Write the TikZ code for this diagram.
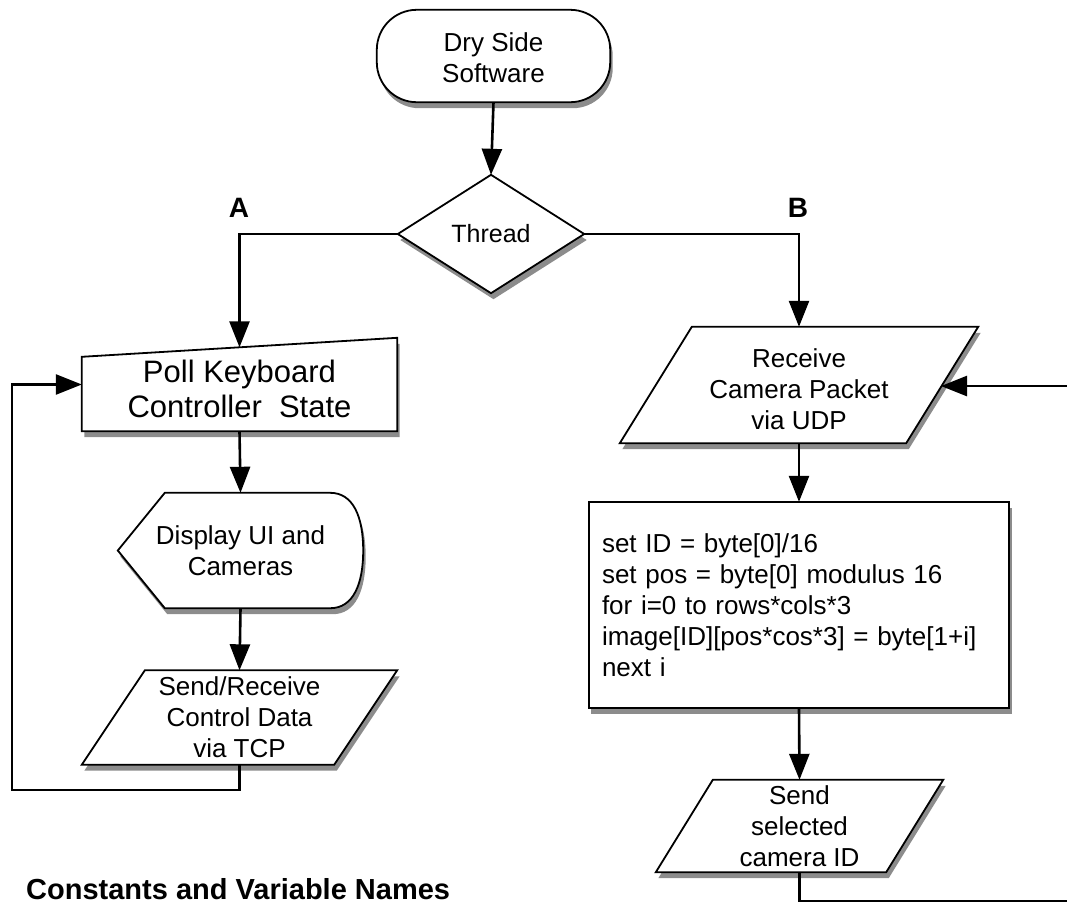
\documentclass[tikz,border=0pt]{standalone}
\usepackage{fontspec}
\setmainfont{Liberation Sans}
\usetikzlibrary{arrows.meta,calc,shadows}
\pgfdeclarelayer{background}
\pgfsetlayers{background,main}

% parallelogram outline around a node box, #2 = horizontal slant
\newcommand\paraoutline[2]{%
  \draw[outline] ($(#1.north west)+(#2,0)$) -- (#1.north east)
    -- ($(#1.south east)+(-#2,0)$) -- (#1.south west) -- cycle;}

\begin{document}
\begin{tikzpicture}[x=1pt,y=-1pt,
  box/.style={inner sep=0pt, align=center, font=\fontsize{26}{31}\selectfont},
  txt/.style={inner sep=0pt, align=center, font=\fontsize{26}{31}\selectfont},
  outline/.style={draw=black, line width=1.8pt, fill=white,
    drop shadow={shadow xshift=2.5pt, shadow yshift=-6pt, opacity=0.6, fill=black!75}},
  flow/.style={draw=black, line width=2.6pt, -{Triangle[length=26pt,width=20pt]}},
  branch/.style={inner sep=0pt, font=\bfseries\fontsize{28}{30}\selectfont},
]
\useasboundingbox (0,0) rectangle (1067,903);

% ---- shape boxes and their texts (outlines go on the background layer)
\node[box, minimum width=233pt, minimum height=92pt] (start) at (493.5,56) {};
\node[txt] (starttext) at (493.5,58) {Dry Side\\Software};
\node[box, minimum width=186pt, minimum height=118pt, font=\fontsize{25}{30}\selectfont] (thread) at (491,234) {Thread};
\node[branch] (labA) at (239,208) {A};
\node[branch] (labB) at (798,208) {B};

\node[box, minimum width=315pt, minimum height=93pt] (poll) at (239.5,384.5) {};
\node[txt, font=\fontsize{31}{35}\selectfont] (polltext) at (239.5,388.5) {Poll Keyboard\\Controller~~State};
\node[box, minimum width=245pt, minimum height=115pt] (disp) at (240.5,550.5) {Display UI and\\Cameras};
\node[box, minimum width=315pt, minimum height=94pt] (sendctl) at (239.5,717.5) {Send/Receive\\Control Data\\via TCP};

\node[box, minimum width=358pt, minimum height=116pt] (recv) at (799,385) {};
\node[txt] (recvtext) at (799,389) {Receive\\Camera Packet\\via UDP};
\node[box, minimum width=420pt, minimum height=206pt, text width=394pt, align=left] (proc) at (799,605)
  {set ID = byte[0]/16\\
   set pos = byte[0] modulus 16\\
   for i=0 to rows*cols*3\\
   image[ID][pos*cos*3] = byte[1+i]\\
   next i};
\node[box, minimum width=287pt, minimum height=92pt] (sendsel) at (799.5,826) {Send\\selected\\camera ID};

\node[anchor=base west, inner sep=0pt, font=\bfseries\fontsize{29}{30}\selectfont] (consts) at (26,899) {Constants and Variable Names};

% ---- shape outlines
\begin{pgfonlayer}{background}
  \draw[outline, rounded corners=40pt] (start.north west) rectangle (start.south east);
  \draw[outline] (thread.north) -- (thread.east) -- (thread.south) -- (thread.west) -- cycle;
  % manual input: slanted top edge
  \draw[outline] ($(poll.north west)+(0,19)$) -- (poll.north east) -- (poll.south east) -- (poll.south west) -- cycle;
  % display shape
  \draw[outline] (disp.west) -- ($(disp.north west)+(47,0)$) -- ($(disp.north east)+(-33,0)$)
    .. controls ($(disp.north east)+(-10,0)$) and ($(disp.north east)+(0,24)$) .. (disp.east)
    .. controls ($(disp.south east)+(0,-24)$) and ($(disp.south east)+(-10,0)$) .. ($(disp.south east)+(-33,0)$)
    -- ($(disp.south west)+(47,0)$) -- cycle;
  \paraoutline{sendctl}{63}
  \paraoutline{recv}{72}
  \draw[outline] (proc.north west) rectangle (proc.south east);
  \paraoutline{sendsel}{57}
\end{pgfonlayer}

% ---- connection points
\coordinate (polltop) at ($(poll.north)+(0,9.5)$);
\coordinate (loopL) at (12,790);
\coordinate (recvin) at (941,386);
\coordinate (loopR) at (1090,901);

% ---- connectors
\draw[flow] (start.south) -- (thread.north);
\draw[flow] (thread.west) -| (polltop);
\draw[flow] (thread.east) -| (recv.north);
\draw[flow] (poll.south) -- (disp.north);
\draw[flow] (disp.south) -- (sendctl.north);
\draw[flow] (sendctl.south) |- (loopL) |- (poll.west);
\draw[flow] (recv.south) -- (proc.north);
\draw[flow] (proc.south) -- (sendsel.north);
\draw[flow] (sendsel.south) |- (loopR) |- (recvin);
\end{tikzpicture}
\end{document}
